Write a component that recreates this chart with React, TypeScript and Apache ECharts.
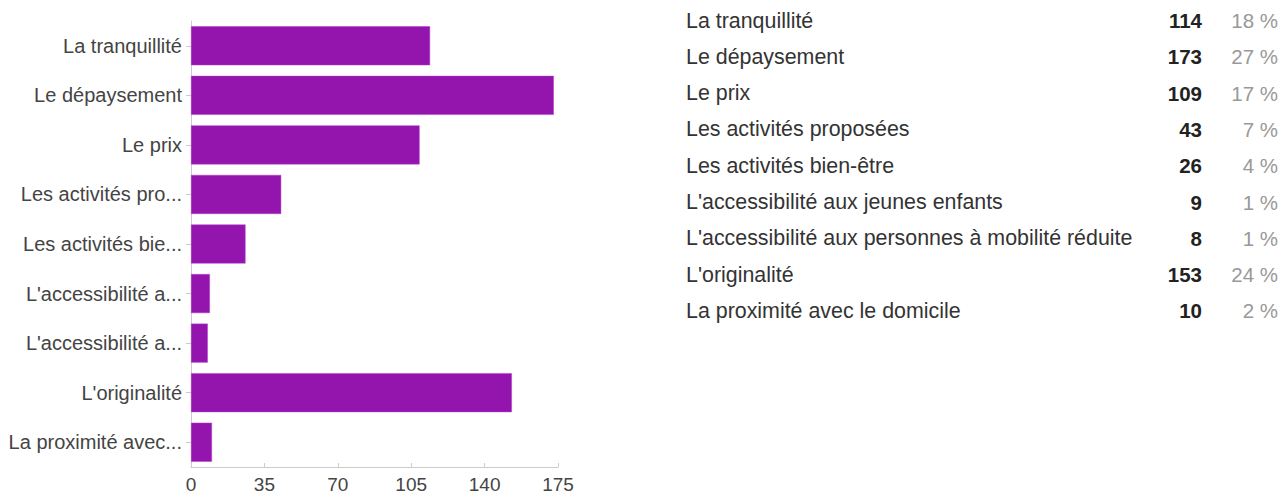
import React, { useEffect, useRef } from "react";
import * as echarts from "echarts";

const categories = [
  "La tranquillité",
  "Le dépaysement",
  "Le prix",
  "Les activités proposées",
  "Les activités bien-être",
  "L'accessibilité aux jeunes enfants",
  "L'accessibilité aux personnes à mobilité réduite",
  "L'originalité",
  "La proximité avec le domicile",
];
const axisLabels = [
  "La tranquillité",
  "Le dépaysement",
  "Le prix",
  "Les activités pro...",
  "Les activités bie...",
  "L'accessibilité a...",
  "L'accessibilité a...",
  "L'originalité",
  "La proximité avec...",
];
const counts = [114, 173, 109, 43, 26, 9, 8, 153, 10];
const percents = ["18 %", "27 %", "17 %", "7 %", "4 %", "1 %", "1 %", "24 %", "2 %"];
const xTicks = { min: 0, max: 175, interval: 35 };

const FONT = "'Liberation Sans', Arial, Helvetica, sans-serif";

export default function App() {
  const ref = useRef<HTMLDivElement>(null);
  useEffect(() => {
    if (!ref.current) return;
    const chart = echarts.init(ref.current, null, { renderer: "svg" });
    const rowTop = 31;
    const rowStep = 36.3;
    const tableTexts: any[] = [];
    categories.forEach((c, i) => {
      const y = rowTop + i * rowStep;
      tableTexts.push({
        type: "text",
        x: 686,
        y,
        style: { text: c, fill: "#333", font: `21.4px ${FONT}`, textAlign: "left", textVerticalAlign: "bottom" },
      });
      tableTexts.push({
        type: "text",
        x: 1202,
        y,
        style: { text: String(counts[i]), fill: "#222", font: `bold 20.5px ${FONT}`, textAlign: "right", textVerticalAlign: "bottom" },
      });
      tableTexts.push({
        type: "text",
        x: 1278,
        y,
        style: { text: percents[i], fill: "#999", font: `20.5px ${FONT}`, textAlign: "right", textVerticalAlign: "bottom" },
      });
    });
    chart.setOption({
      animation: false,
      backgroundColor: "#fff",
      grid: { left: 191, top: 21, width: 367, height: 446, containLabel: false },
      xAxis: {
        type: "value",
        min: xTicks.min,
        max: xTicks.max,
        interval: xTicks.interval,
        axisLine: { show: true, lineStyle: { color: "#ccc", width: 1 } },
        axisTick: { show: true, inside: true, length: 4, lineStyle: { color: "#ccc" } },
        splitLine: { show: false },
        axisLabel: { color: "#444", fontSize: 19, fontFamily: FONT, margin: 8 },
      },
      yAxis: {
        type: "category",
        inverse: true,
        data: categories,
        axisLine: { show: true, lineStyle: { color: "#ccc", width: 1 } },
        axisTick: { show: true, length: 5, alignWithLabel: true, lineStyle: { color: "#ccc" } },
        axisLabel: {
          color: "#444",
          fontSize: 20,
          fontFamily: FONT,
          margin: 9,
          formatter: (_v: string, idx: number) => axisLabels[idx],
        },
      },
      series: [
        {
          type: "bar",
          data: counts,
          barWidth: 39,
          itemStyle: { color: "#9414ae", borderColor: "#b33fcf", borderWidth: 0.5 },
        },
      ],
      graphic: tableTexts,
    });
    return () => chart.dispose();
  }, []);
  return (
    <div
      ref={ref}
      style={{ position: "fixed", left: 0, top: 0, width: 1283, height: 494, background: "#fff" }}
    />
  );
}
